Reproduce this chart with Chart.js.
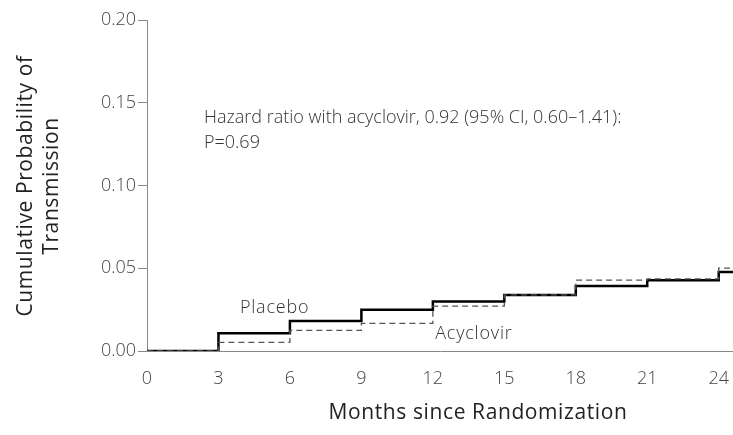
<!DOCTYPE html>
<html>
<head>
<meta charset="utf-8">
<script src="https://cdn.jsdelivr.net/npm/chart.js@4/dist/chart.umd.min.js"></script>
<style>
  html, body { margin: 0; padding: 0; background: #fff; }
  #wrap { width: 733px; height: 435px; }
</style>
</head>
<body>
<div id="wrap"><canvas id="c" width="733" height="435"></canvas></div>
<script>
// Data (months, cumulative probability)
const months = [0, 3, 6, 9, 12, 15, 18, 21, 24, 24.6];
const placebo = [0, 0.0108, 0.0181, 0.0249, 0.0299, 0.0339, 0.0392, 0.0428, 0.0478, 0.0478];
const acyclovir = [0, 0.0052, 0.0125, 0.0167, 0.0271, 0.0339, 0.0428, 0.0436, 0.0501, 0.0501];
const xTicks = [0, 3, 6, 9, 12, 15, 18, 21, 24];
const yTicks = [0, 0.05, 0.10, 0.15, 0.20];
const xTitle = 'Months since Randomization';
const yTitle = ['Cumulative Probability of', 'Transmission'];
const annotation = ['Hazard ratio with acyclovir, 0.92 (95% CI, 0.60\u20131.41):', 'P=0.69'];
const seriesLabels = ['Placebo', 'Acyclovir'];

const FONT = '"Open Sans", "DejaVu Sans", sans-serif';

const toPts = (ys) => months.map((m, i) => ({ x: m, y: ys[i] }));

const textPlugin = {
  id: 'texts',
  afterDraw(chart) {
    const ctx = chart.ctx;
    const xs = chart.scales.x, ys = chart.scales.y;
    ctx.save();
    // Y title
    ctx.fillStyle = '#222';
    ctx.font = '500 21px ' + FONT;
    ctx.textAlign = 'center';
    ctx.textBaseline = 'middle';
    ctx.letterSpacing = '0.6px';
    ctx.save();
    ctx.translate(26, 186);
    ctx.rotate(-Math.PI / 2);
    ctx.fillText(yTitle[0], 0, 0);
    ctx.restore();
    ctx.save();
    ctx.translate(52, 186);
    ctx.rotate(-Math.PI / 2);
    ctx.fillText(yTitle[1], 0, 0);
    ctx.restore();
    // X title
    ctx.letterSpacing = '0.6px';
    ctx.fillText(xTitle, 478, 413);
    // Annotation
    ctx.letterSpacing = '0px';
    ctx.fillStyle = '#333';
    ctx.font = '300 18px ' + FONT;
    ctx.textAlign = 'left';
    ctx.fillText(annotation[0], 204, 118);
    ctx.fillText(annotation[1], 204, 143);
    // Series labels
    ctx.letterSpacing = '0.8px';
    ctx.fillText(seriesLabels[0], xs.getPixelForValue(3.9), ys.getPixelForValue(0.0262));
    ctx.fillText(seriesLabels[1], xs.getPixelForValue(12.1), ys.getPixelForValue(0.0105));
    ctx.restore();
  }
};

new Chart(document.getElementById('c'), {
  type: 'line',
  data: {
    datasets: [
      {
        label: seriesLabels[1],
        data: toPts(acyclovir),
        stepped: true,
        borderColor: '#555',
        borderWidth: 1.3,
        borderDash: [6, 4],
        pointRadius: 0,
        fill: false
      },
      {
        label: seriesLabels[0],
        data: toPts(placebo),
        stepped: true,
        borderColor: '#000',
        borderWidth: 2.5,
        pointRadius: 0,
        fill: false
      }
    ]
  },
  options: {
    responsive: false,
    animation: false,
    events: [],
    layout: { padding: { top: 20, right: 0, left: 0, bottom: 0 } },
    plugins: { legend: { display: false }, tooltip: { enabled: false } },
    scales: {
      x: {
        type: 'linear',
        min: 0,
        max: 24.6,
        afterBuildTicks(s) { s.ticks = xTicks.map(v => ({ value: v })); },
        afterFit(s) { s.height = 84; s.paddingRight = 0; s.paddingLeft = 0; },
        grid: { display: false, drawOnChartArea: false, drawTicks: true, tickLength: 8, color: '#888', tickColor: '#888' },
        border: { display: true, color: '#888', width: 1 },
        ticks: { color: '#444', font: { family: FONT, size: 18, weight: '300' }, padding: 9, maxRotation: 0, autoSkip: false }
      },
      y: {
        type: 'linear',
        min: 0,
        max: 0.2,
        afterBuildTicks(s) { s.ticks = yTicks.map(v => ({ value: v })); },
        afterFit(s) { s.width = 147; s.paddingTop = 0; s.paddingBottom = 0; },
        grid: { display: true, drawOnChartArea: false, drawTicks: true, tickLength: 9, color: '#888', tickColor: '#888' },
        border: { display: true, color: '#888', width: 1 },
        ticks: { color: '#444', font: { family: FONT, size: 18, weight: '300' }, padding: 2, callback: v => v.toFixed(2) }
      }
    }
  },
  plugins: [textPlugin]
});
</script>
</body>
</html>
